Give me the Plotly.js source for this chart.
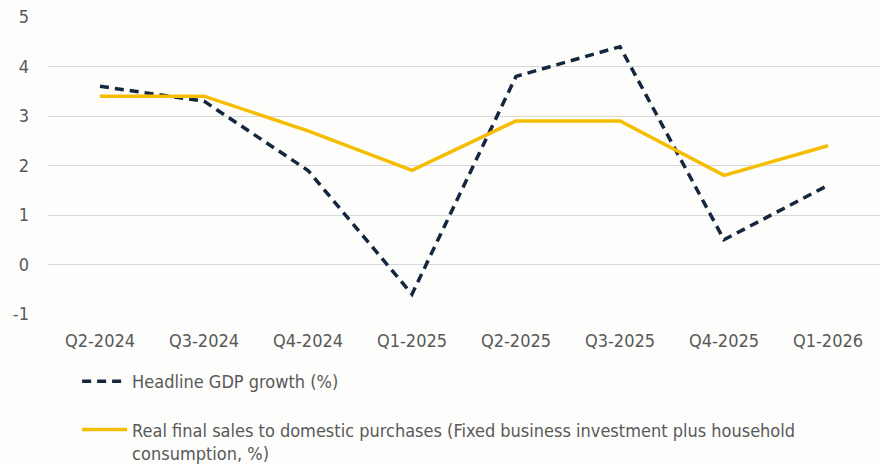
<!DOCTYPE html>
<html><head><meta charset="utf-8">
<script src="https://cdn.plot.ly/plotly-3.0.1.min.js"></script>
<style>html,body{margin:0;padding:0;background:#fdfdfc;}</style>
</head><body>
<div id="chart" style="width:881px;height:465px;"></div>
<script>
const quarters = ["Q2-2024","Q3-2024","Q4-2024","Q1-2025","Q2-2025","Q3-2025","Q4-2025","Q1-2026"];
const headlineGDP = [3.6, 3.3, 1.9, -0.6, 3.8, 4.4, 0.5, 1.6];
const realFinalSales = [3.4, 3.4, 2.7, 1.9, 2.9, 2.9, 1.8, 2.4];
const yTicks = [-1, 0, 1, 2, 3, 4, 5];
const yTickText = ["-1", "0", "1", "2", "3", "4", "5"];

const FONT = '"DejaVu Sans Condensed", "DejaVu Sans", sans-serif';
const traces = [
  {x: quarters, y: headlineGDP, type: 'scatter', mode: 'lines',
   name: 'Headline GDP growth (%)', legendgroup: 'a',
   line: {color: '#15263f', width: 3.5, dash: '9px,6px'}},
  {x: quarters, y: realFinalSales, type: 'scatter', mode: 'lines',
   name: 'Real final sales to domestic purchases (Fixed business investment plus household<br>consumption, %)', legendgroup: 'b',
   line: {color: '#f5bd00', width: 3.5}}
];
const layout = {
  width: 881, height: 465,
  paper_bgcolor: '#fdfdfc', plot_bgcolor: '#fdfdfc',
  margin: {l: 48, r: 1, t: 17, b: 151, autoexpand: false},
  font: {family: FONT, size: 18, color: '#595959'},
  showlegend: true,
  xaxis: {type: 'category', showgrid: false, zeroline: false, showline: false,
          ticks: '', ticklabelstandoff: 14, tickfont: {size: 18, color: '#595959'},
          range: [-0.5, 7.5]},
  yaxis: {range: [-1, 5], tickvals: yTicks, ticktext: yTickText, showgrid: true, gridcolor: '#d9d9d9', gridwidth: 1,
          zeroline: false, showline: false, ticks: '', ticklabelstandoff: 18,
          tickfont: {size: 18, color: '#595959'}},
  legend: {orientation: 'v', x: 0.035, xanchor: 'left', y: -0.165, yanchor: 'top',
           traceorder: 'grouped', tracegroupgap: 22, valign: 'top',
           font: {size: 18, color: '#595959'}, bgcolor: 'rgba(0,0,0,0)', itemwidth: 45}
};
Plotly.newPlot('chart', traces, layout, {displayModeBar: false, staticPlot: true});
</script>
</body></html>
